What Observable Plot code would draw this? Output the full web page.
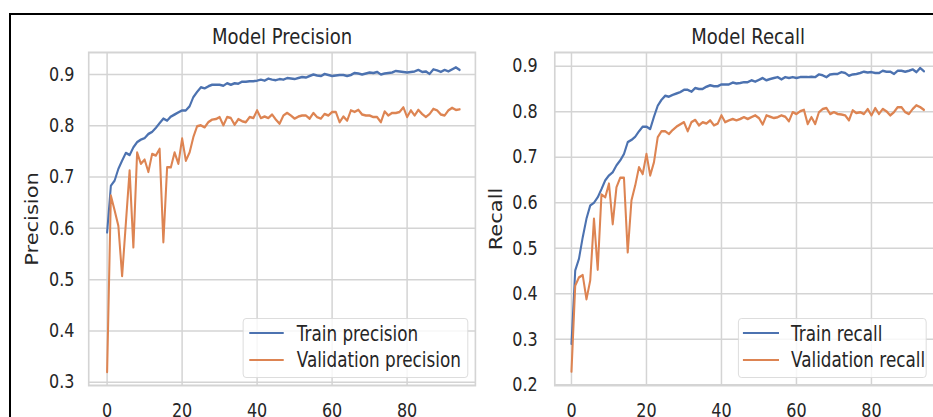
<!DOCTYPE html>
<html>
<head>
<meta charset="utf-8">
<script src="https://cdn.jsdelivr.net/npm/d3@7"></script>
<script src="https://cdn.jsdelivr.net/npm/@observablehq/plot@0.6"></script>
<style>
  html, body { margin: 0; padding: 0; background: #fff; }
  #page { position: relative; width: 933px; height: 417px; overflow: hidden; background: #fff; font-family: "DejaVu Sans", sans-serif; color: #262626; }
  #stage { position: absolute; left: 0; top: 0; height: 417px; transform-origin: 0 0; }
  #stage svg { position: absolute; top: 0; }
  .bline { position: absolute; background: #000; }
  .legend { position: absolute; box-sizing: border-box; border: 1.3px solid #d9d9d9; border-radius: 4px; background: rgba(255,255,255,0.8); }
  .lgline { position: absolute; height: 2.4px; }
  .lgtext { position: absolute; font-size: 20.5px; line-height: 24px; white-space: nowrap; color: #262626; }
</style>
</head>
<body>
<div id="page">
  <div id="stage"></div>
  <div class="bline" style="left:9px; top:12.5px; width:930px; height:2px;"></div>
  <div class="bline" style="left:9px; top:12.5px; width:2px; height:410px;"></div>
</div>
<script>
// ---------- data ----------
const epochs = d3.range(95);
const xTicks = [0, 20, 40, 60, 80];
const precisionTicks = [0.3, 0.4, 0.5, 0.6, 0.7, 0.8, 0.9];
const recallTicks = [0.2, 0.3, 0.4, 0.5, 0.6, 0.7, 0.8, 0.9];

const trainPrecision = [
  0.592, 0.683, 0.693, 0.716, 0.732, 0.747, 0.743, 0.758, 0.768, 0.773,
  0.776, 0.784, 0.788, 0.796, 0.805, 0.814, 0.810, 0.818, 0.822, 0.826,
  0.830, 0.830, 0.838, 0.856, 0.866, 0.875, 0.873, 0.877, 0.880, 0.880,
  0.880, 0.878, 0.883, 0.880, 0.883, 0.882, 0.886, 0.886, 0.887, 0.887,
  0.888, 0.890, 0.888, 0.892, 0.890, 0.889, 0.891, 0.890, 0.893, 0.892,
  0.891, 0.893, 0.895, 0.894, 0.897, 0.900, 0.898, 0.897, 0.901, 0.899,
  0.897, 0.898, 0.899, 0.899, 0.897, 0.899, 0.903, 0.902, 0.900, 0.902,
  0.904, 0.903, 0.905, 0.900, 0.902, 0.903, 0.904, 0.907, 0.906, 0.905,
  0.904, 0.905, 0.906, 0.909, 0.905, 0.906, 0.901, 0.910, 0.908, 0.905,
  0.909, 0.906, 0.910, 0.914, 0.909
];
const valPrecision = [
  0.320, 0.664, 0.635, 0.605, 0.507, 0.610, 0.713, 0.563, 0.748, 0.726,
  0.734, 0.710, 0.745, 0.742, 0.755, 0.573, 0.719, 0.719, 0.748, 0.726,
  0.775, 0.732, 0.748, 0.778, 0.799, 0.801, 0.797, 0.807, 0.812, 0.813,
  0.817, 0.801, 0.817, 0.815, 0.802, 0.813, 0.809, 0.807, 0.817, 0.815,
  0.830, 0.815, 0.818, 0.815, 0.822, 0.812, 0.804, 0.820, 0.825, 0.820,
  0.814, 0.818, 0.820, 0.820, 0.814, 0.825, 0.817, 0.814, 0.823, 0.820,
  0.827, 0.827, 0.807, 0.818, 0.810, 0.830, 0.827, 0.831, 0.822, 0.820,
  0.820, 0.817, 0.817, 0.807, 0.828, 0.820, 0.825, 0.825, 0.827, 0.836,
  0.817, 0.830, 0.820, 0.831, 0.823, 0.817, 0.823, 0.833, 0.830, 0.822,
  0.820, 0.830, 0.835, 0.831, 0.832
];
const trainRecall = [
  0.290, 0.451, 0.477, 0.524, 0.565, 0.594, 0.600, 0.612, 0.630, 0.649,
  0.660, 0.667, 0.682, 0.693, 0.707, 0.733, 0.738, 0.745, 0.757, 0.767,
  0.767, 0.762, 0.789, 0.813, 0.826, 0.835, 0.833, 0.837, 0.840, 0.843,
  0.848, 0.848, 0.844, 0.852, 0.850, 0.850, 0.855, 0.858, 0.856, 0.856,
  0.860, 0.860, 0.860, 0.864, 0.862, 0.863, 0.865, 0.865, 0.869, 0.866,
  0.870, 0.874, 0.869, 0.872, 0.874, 0.876, 0.871, 0.876, 0.874, 0.876,
  0.874, 0.876, 0.876, 0.876, 0.877, 0.876, 0.882, 0.880, 0.876, 0.882,
  0.883, 0.883, 0.887, 0.885, 0.879, 0.882, 0.883, 0.885, 0.888, 0.886,
  0.887, 0.885, 0.885, 0.890, 0.888, 0.888, 0.883, 0.890, 0.890, 0.888,
  0.890, 0.893, 0.887, 0.896, 0.889
];
const valRecall = [
  0.229, 0.418, 0.436, 0.441, 0.388, 0.429, 0.565, 0.453, 0.618, 0.612,
  0.642, 0.553, 0.634, 0.655, 0.655, 0.491, 0.605, 0.638, 0.678, 0.663,
  0.707, 0.660, 0.689, 0.744, 0.757, 0.757, 0.751, 0.760, 0.767, 0.772,
  0.777, 0.757, 0.777, 0.782, 0.770, 0.777, 0.774, 0.781, 0.770, 0.774,
  0.792, 0.777, 0.781, 0.784, 0.781, 0.784, 0.788, 0.784, 0.788, 0.792,
  0.786, 0.772, 0.792, 0.789, 0.786, 0.788, 0.792, 0.789, 0.779, 0.799,
  0.795, 0.801, 0.804, 0.773, 0.788, 0.773, 0.799, 0.806, 0.808, 0.795,
  0.799, 0.795, 0.794, 0.792, 0.781, 0.803, 0.797, 0.799, 0.795, 0.806,
  0.792, 0.808, 0.795, 0.806, 0.801, 0.792, 0.799, 0.810, 0.810, 0.799,
  0.795, 0.806, 0.814, 0.810, 0.804
];

// ---------- layout ----------
const S = 0.82; // horizontal squeeze of the reference picture
const stage = document.getElementById("stage");
stage.style.width = (933 / S) + "px";
stage.style.transform = `scaleX(${S})`;

const BLUE = "#4c72b0", ORANGE = "#dd8452", GRID = "#d4d4d4", INK = "#262626";

function panel(o) {
  const train = epochs.map((e, i) => ({epoch: e, value: o.train[i]}));
  const val = epochs.map((e, i) => ({epoch: e, value: o.val[i]}));
  const chart = Plot.plot({
    width: (o.svgR - o.svgL) / S,
    height: 417,
    marginLeft: (o.frameL - o.svgL) / S,
    marginRight: (o.svgR - o.frameR) / S,
    marginTop: 52,
    marginBottom: 32,
    style: {background: "transparent", fontFamily: "DejaVu Sans, sans-serif", fontSize: "19.5px", color: INK, overflow: "visible", maxWidth: "none"},
    x: {domain: o.xDomain, ticks: xTicks, tickSize: 0, tickPadding: 18, label: null},
    y: {domain: o.yDomain, ticks: o.yTicks, tickSize: 0, tickPadding: o.yPad / S, label: null, tickFormat: d3.format(".1f")},
    marks: [
      Plot.gridX(xTicks, {stroke: GRID, strokeOpacity: 1, strokeWidth: 1.5 / S}),
      Plot.gridY(o.yTicks, {stroke: GRID, strokeOpacity: 1, strokeWidth: 1.5}),
      Plot.frame({stroke: GRID, strokeWidth: 2}),
      Plot.line(train, {x: "epoch", y: "value", stroke: BLUE, strokeWidth: 2.5}),
      Plot.line(val, {x: "epoch", y: "value", stroke: ORANGE, strokeWidth: 2.5}),
      Plot.text([o.title], {text: d => d, frameAnchor: "top", dy: -15.5, lineAnchor: "middle", fontSize: 22, fill: INK}),
      Plot.text([o.ylabel], {text: d => d, frameAnchor: "left", dx: -(o.frameL - o.labelCx) / S, rotate: -90, textAnchor: "middle", lineAnchor: "middle", fontSize: 21, fill: INK})
    ]
  });
  chart.style.left = (o.svgL / S) + "px";
  stage.appendChild(chart);

  // legend
  const lg = document.createElement("div");
  lg.className = "legend";
  lg.style.left = (o.leg.x0 / S) + "px";
  lg.style.width = ((o.leg.x1 - o.leg.x0) / S) + "px";
  lg.style.top = o.leg.y0 + "px";
  lg.style.height = (o.leg.y1 - o.leg.y0) + "px";
  stage.appendChild(lg);
  [[o.trainLabel, BLUE, o.leg.rows[0]], [o.valLabel, ORANGE, o.leg.rows[1]]].forEach(([label, color, y]) => {
    const ln = document.createElement("div");
    ln.className = "lgline";
    ln.style.background = color;
    ln.style.left = (o.leg.l0 / S) + "px";
    ln.style.width = ((o.leg.l1 - o.leg.l0) / S) + "px";
    ln.style.top = (y - 1.2) + "px";
    stage.appendChild(ln);
    const tx = document.createElement("div");
    tx.className = "lgtext";
    tx.textContent = label;
    tx.style.left = (o.leg.tx / S) + "px";
    tx.style.top = (y - 11.8) + "px";
    stage.appendChild(tx);
  });
}

panel({
  title: "Model Precision", ylabel: "Precision",
  train: trainPrecision, val: valPrecision,
  trainLabel: "Train precision", valLabel: "Validation precision",
  yTicks: precisionTicks, yDomain: [0.2936, 0.9429], xDomain: [-4.907, 98.21],
  svgL: 0, svgR: 480, frameL: 88.3, frameR: 475, yPad: 14.3, labelCx: 32,
  leg: {x0: 243, x1: 468, y0: 318, y1: 378, l0: 249, l1: 284, tx: 296.7, rows: [333.3, 360]}
});
panel({
  title: "Model Recall", ylabel: "Recall",
  train: trainRecall, val: valRecall,
  trainLabel: "Train recall", valLabel: "Validation recall",
  yTicks: recallTicks, yDomain: [0.1985, 0.9301], xDomain: [-4.453, 98.67],
  svgL: 478, svgR: 946, frameL: 554.3, frameR: 941, yPad: 17, labelCx: 496,
  leg: {x0: 738, x1: 926.7, y0: 318, y1: 378, l0: 743, l1: 779, tx: 791, rows: [333.3, 360]}
});
</script>
</body>
</html>
